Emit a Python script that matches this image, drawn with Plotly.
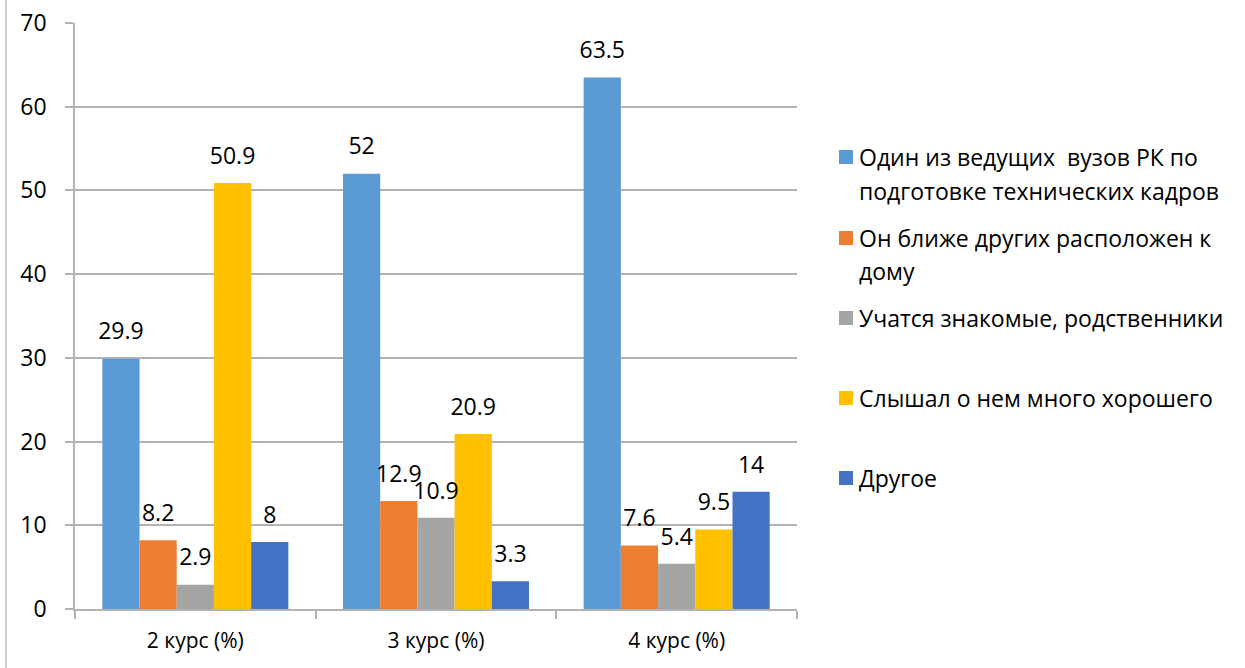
import plotly.graph_objects as go

categories = ["2 курс (%)", "3 курс (%)", "4 курс (%)"]
series_names = [
    "Один из ведущих  вузов РК по\nподготовке технических кадров",
    "Он ближе других расположен к\nдому",
    "Учатся знакомые, родственники",
    "Слышал о нем много хорошего",
    "Другое",
]
values_leading = [29.9, 52, 63.5]
values_close = [8.2, 12.9, 7.6]
values_friends = [2.9, 10.9, 5.4]
values_heard = [50.9, 20.9, 9.5]
values_other = [8, 3.3, 14]
colors = ["#5B9BD5", "#ED7D31", "#A5A5A5", "#FFC000", "#4472C4"]
series_values = [values_leading, values_close, values_friends, values_heard, values_other]

FONT = "Open Sans"
W, H = 1245, 668
L, R, T, B = 75, 797, 23, 609
GAP = 0.227

fig = go.Figure()
for name, vals, col in zip(series_names, series_values, colors):
    fig.add_trace(go.Bar(
        x=categories, y=vals, name=name.replace("\n", " "),
        marker=dict(color=col, line=dict(width=0)),
        showlegend=False, offsetgroup=name, alignmentgroup="a",
    ))
# data labels, grouped like the bars
for name, vals in zip(series_names, series_values):
    fig.add_trace(go.Scatter(
        x=categories, y=vals, mode="markers+text",
        marker=dict(size=20, color="rgba(0,0,0,0)"),
        text=[f"{v:g}" for v in vals], textposition="top center",
        textfont=dict(size=23, color="#000000", family=FONT),
        cliponaxis=False, showlegend=False, hoverinfo="skip",
        offsetgroup=name, alignmentgroup="a",
    ))

def px2x(px):
    return (px - L) / (R - L)

def py2y(py):
    return (B - py) / (B - T)

# manual legend
line_y = [[157, 191], [238, 271], [318], [398], [478]]
annotations = []
shapes = []
for name, col, ys in zip(series_names, colors, line_y):
    lines = name.split("\n")
    for ln, yy in zip(lines, ys):
        annotations.append(dict(
            x=px2x(857), y=py2y(yy), xref="paper", yref="paper",
            text=ln, showarrow=False, xanchor="left", yanchor="middle",
            font=dict(size=23, family=FONT, color="#000000"),
        ))
    yc = ys[0]
    shapes.append(dict(
        type="rect", xref="paper", yref="paper",
        x0=px2x(839), x1=px2x(853), y0=py2y(yc + 7), y1=py2y(yc - 7),
        fillcolor=col, line=dict(width=0),
    ))

# chart-area border visible on the left
shapes.append(dict(type="line", xref="paper", yref="paper",
                   x0=px2x(6), x1=px2x(6), y0=py2y(0), y1=py2y(H),
                   line=dict(color="#BFBFBF", width=1.5)))

fig.update_layout(
    width=W, height=H,
    margin=dict(l=L, r=W - R, t=T, b=H - B, pad=0, autoexpand=False),
    paper_bgcolor="white", plot_bgcolor="white",
    barmode="group", bargap=GAP, bargroupgap=0,
    scattermode="group", scattergap=GAP,
    font=dict(family=FONT, size=22, color="#000000"),
    annotations=annotations, shapes=shapes,
    xaxis=dict(
        showline=True, linecolor="#B3B3B3", linewidth=1.5,
        ticks="outside", ticklen=8, tickcolor="#B3B3B3", tickwidth=1.5,
        tickson="boundaries", showgrid=False, automargin=False,
        tickfont=dict(size=21, family=FONT, color="#000000"),
        ticklabelstandoff=12,
    ),
    yaxis=dict(
        range=[0, 70], dtick=10, tick0=0,
        showgrid=True, gridcolor="#B3B3B3", gridwidth=1.5,
        showline=True, linecolor="#B3B3B3", linewidth=1.5,
        ticks="outside", ticklen=8, tickcolor="#B3B3B3", tickwidth=1.5,
        zeroline=False, automargin=False,
        tickfont=dict(size=23, family=FONT, color="#000000"),
        ticklabelstandoff=14,
    ),
)

fig.write_html(
    "out.html",
    config={"displayModeBar": False},
    post_script="document.body.style.margin='0';document.body.style.overflow='hidden';",
)
